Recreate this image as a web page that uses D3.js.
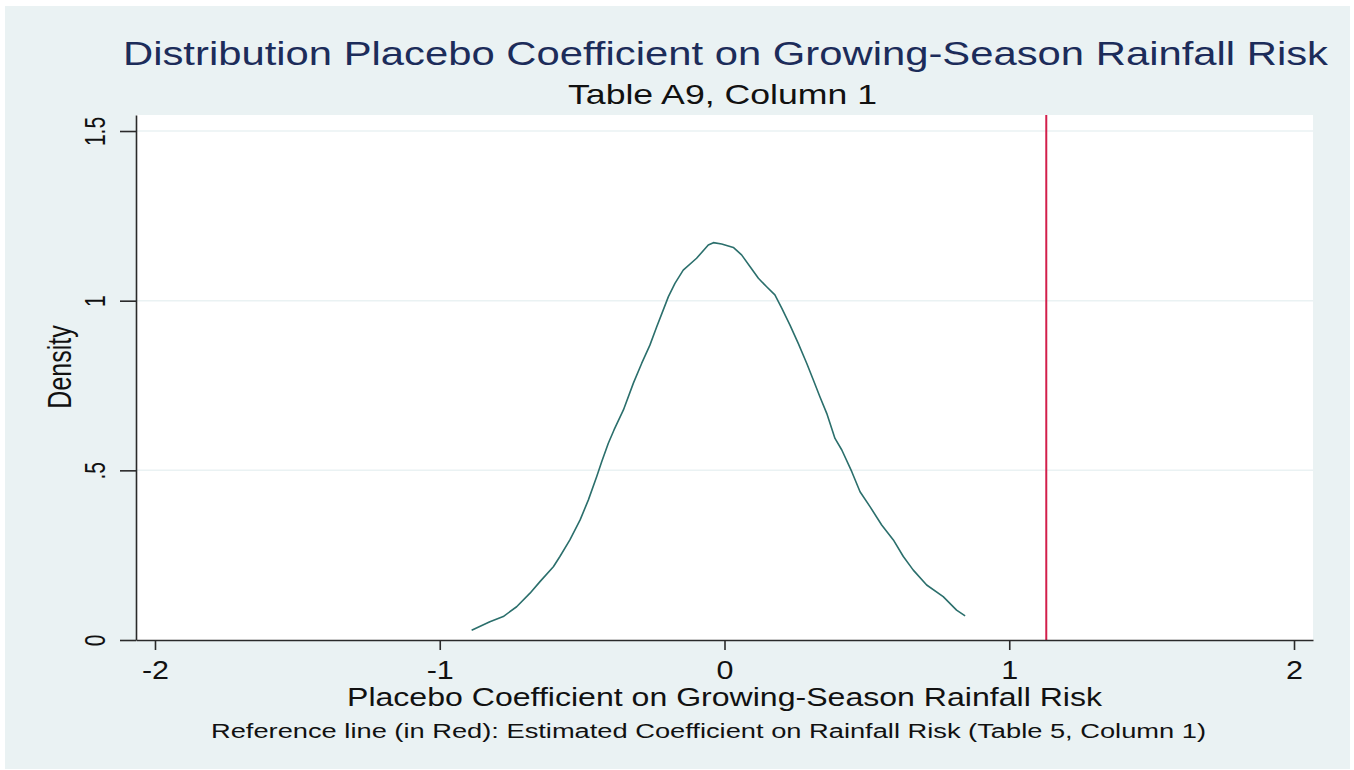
<!DOCTYPE html>
<html>
<head>
<meta charset="utf-8">
<script src="https://cdn.jsdelivr.net/npm/d3@7"></script>
<style>
  html, body { margin: 0; padding: 0; background: #ffffff; }
  svg { display: block; }
  text { font-family: "Liberation Sans", Arial, sans-serif; }
</style>
</head>
<body>
<svg id="chart" width="1354" height="770"></svg>
<script>
// ---- Data ----
const densityX = [-0.888, -0.824, -0.777, -0.730, -0.683, -0.648, -0.601, -0.578, -0.543, -0.507,
  -0.478, -0.449, -0.431, -0.408, -0.388, -0.355, -0.320, -0.291, -0.262, -0.238,
  -0.215, -0.197, -0.174, -0.145, -0.098, -0.057, -0.039, -0.010, 0.031, 0.060,
  0.090, 0.119, 0.148, 0.177, 0.201, 0.230, 0.259, 0.289, 0.312, 0.335,
  0.359, 0.388, 0.412, 0.447, 0.476, 0.511, 0.552, 0.593, 0.628, 0.663,
  0.710, 0.768, 0.815, 0.845];
const densityY = [0.029, 0.054, 0.069, 0.098, 0.138, 0.172, 0.216, 0.246, 0.295, 0.354,
  0.413, 0.481, 0.526, 0.580, 0.619, 0.678, 0.757, 0.815, 0.869, 0.923,
  0.973, 1.012, 1.051, 1.090, 1.125, 1.164, 1.171, 1.167, 1.157, 1.135,
  1.100, 1.066, 1.041, 1.017, 0.978, 0.928, 0.874, 0.815, 0.766, 0.717,
  0.668, 0.594, 0.560, 0.496, 0.437, 0.393, 0.339, 0.295, 0.246, 0.206,
  0.162, 0.128, 0.088, 0.071];
const referenceX = 1.13;
const xTickValues = [-2, -1, 0, 1, 2];
const xTickLabels = ["-2", "-1", "0", "1", "2"];
const yTickValues = [0, 0.5, 1, 1.5];
const yTickLabels = ["0", ".5", "1", "1.5"];
const gridValues = [0.5, 1, 1.5];
const titleText = "Distribution Placebo Coefficient on Growing-Season Rainfall Risk";
const subtitleText = "Table A9, Column 1";
const xTitleText = "Placebo Coefficient on Growing-Season Rainfall Risk";
const yTitleText = "Density";
const noteText = "Reference line (in Red): Estimated Coefficient on Rainfall Risk (Table 5, Column 1)";

// ---- Layout ----
const W = 1354, H = 770;
const plot = { left: 136, right: 1313, top: 115, bottom: 640 };
const HS = 1.22; // horizontal stretch of the reference's text

const svg = d3.select("#chart");

// outer white border + light bluish graph region
svg.append("rect").attr("x", 0).attr("y", 0).attr("width", W).attr("height", H).attr("fill", "#ffffff");
svg.append("rect").attr("x", 5).attr("y", 6).attr("width", 1345).attr("height", 763).attr("fill", "#eaf2f3");
// plot region
svg.append("rect").attr("x", plot.left).attr("y", plot.top)
  .attr("width", plot.right - plot.left).attr("height", plot.bottom - plot.top).attr("fill", "#ffffff");

const x = d3.scaleLinear().domain([-2.0667, 2.0667]).range([plot.left, plot.right]);
const y = d3.scaleLinear().domain([0, 1.5472]).range([plot.bottom, plot.top]);

// gridlines
svg.append("g").selectAll("line").data(gridValues).join("line")
  .attr("x1", plot.left).attr("x2", plot.right)
  .attr("y1", d => y(d)).attr("y2", d => y(d))
  .attr("stroke", "#eaf2f3").attr("stroke-width", 1.5);

// density curve
const line = d3.line().x(d => x(d[0])).y(d => y(d[1])).curve(d3.curveLinear);
svg.append("path").datum(d3.zip(densityX, densityY))
  .attr("d", line).attr("fill", "none")
  .attr("stroke", "#2b6f6c").attr("stroke-width", 1.6).attr("stroke-linejoin", "round");

// reference line
svg.append("line")
  .attr("x1", x(referenceX)).attr("x2", x(referenceX))
  .attr("y1", plot.top).attr("y2", plot.bottom)
  .attr("stroke", "#d21f4b").attr("stroke-width", 2);

// x axis
const xAxis = d3.axisBottom(x).tickValues(xTickValues)
  .tickFormat((d, i) => xTickLabels[i]).tickSize(10).tickSizeOuter(0);
const gx = svg.append("g").attr("transform", `translate(0,${plot.bottom})`).call(xAxis);
gx.select(".domain").attr("stroke", "#2a2a2a").attr("stroke-width", 1.6);
gx.selectAll(".tick line").attr("stroke", "#2a2a2a").attr("stroke-width", 1.6);
gx.selectAll(".tick text").attr("y", 39).attr("dy", null)
  .attr("font-size", 25).attr("fill", "#111").attr("class", "hs");

// y axis
const yAxis = d3.axisLeft(y).tickValues(yTickValues)
  .tickFormat((d, i) => yTickLabels[i]).tickSize(16).tickSizeOuter(0);
const gy = svg.append("g").attr("transform", `translate(${plot.left},0)`).call(yAxis);
gy.select(".domain").attr("stroke", "#2a2a2a").attr("stroke-width", 1.6);
gy.selectAll(".tick line").attr("stroke", "#2a2a2a").attr("stroke-width", 1.6);
gy.selectAll(".tick text")
  .attr("x", 0).attr("y", 0).attr("dy", null)
  .attr("text-anchor", "middle")
  .attr("transform", `translate(-31,0) scale(1.4,1) rotate(-90)`)
  .attr("font-size", 21).attr("fill", "#111");

// titles
svg.append("text").attr("x", 725.5).attr("y", 64.5).attr("text-anchor", "middle")
  .attr("font-size", 33).attr("fill", "#1c2c5a")
  .attr("textLength", 1205).attr("lengthAdjust", "spacingAndGlyphs").text(titleText);
svg.append("text").attr("x", 722.5).attr("y", 104).attr("text-anchor", "middle")
  .attr("font-size", 28).attr("fill", "#111")
  .attr("textLength", 309).attr("lengthAdjust", "spacingAndGlyphs").text(subtitleText);
svg.append("text").attr("x", 724.5).attr("y", 706).attr("text-anchor", "middle")
  .attr("font-size", 25).attr("fill", "#111")
  .attr("textLength", 755).attr("lengthAdjust", "spacingAndGlyphs").text(xTitleText);
svg.append("text").attr("x", 708.5).attr("y", 738).attr("text-anchor", "middle")
  .attr("font-size", 20).attr("fill", "#111")
  .attr("textLength", 995).attr("lengthAdjust", "spacingAndGlyphs").text(noteText);
svg.append("text").attr("x", 0).attr("y", 0).attr("text-anchor", "middle")
  .attr("transform", `translate(71,367) scale(1.3,1) rotate(-90)`)
  .attr("font-size", 25).attr("fill", "#111").text(yTitleText);

// stretch tick labels horizontally
svg.selectAll("text.hs").each(function () {
  const w = this.getComputedTextLength();
  d3.select(this).attr("textLength", w * HS).attr("lengthAdjust", "spacingAndGlyphs");
});
</script>
</body>
</html>
